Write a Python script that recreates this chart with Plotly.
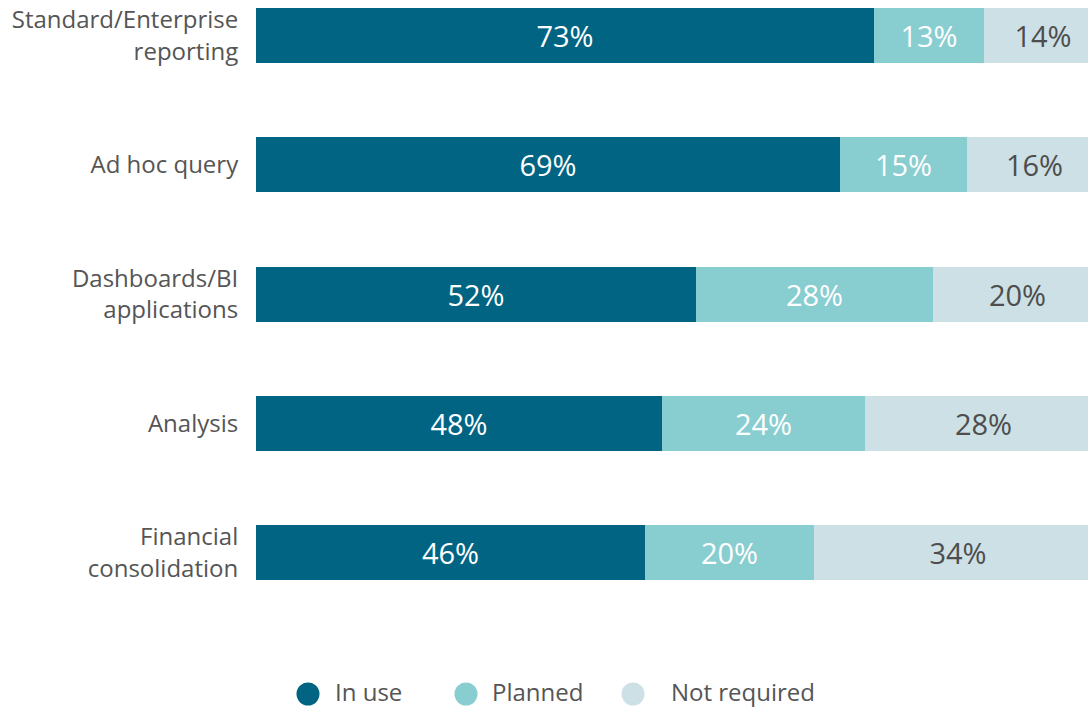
import plotly.graph_objects as go

# Survey: usage status of reporting / BI capabilities (percent of respondents)
categories = [
    "Standard/Enterprise<br>reporting",
    "Ad hoc query",
    "Dashboards/BI<br>applications",
    "Analysis",
    "Financial<br>consolidation",
]
in_use = [73, 69, 52, 48, 46]
planned = [13, 15, 28, 24, 20]
not_required = [14, 16, 20, 28, 34]

series_names = ["In use", "Planned", "Not required"]
series_colors = ["#006482", "#88CDD0", "#CDE0E5"]
text_colors = ["#FFFFFF", "#FFFFFF", "#4D4D4D"]
series_values = [in_use, planned, not_required]

FONT = "Open Sans"
W, H = 1088, 708
ML, MT, PLOT_H = 256, 0, 620

fig = go.Figure()
for name, vals, col, tcol in zip(series_names, series_values, series_colors, text_colors):
    fig.add_trace(go.Bar(
        name=name,
        y=categories,
        x=vals,
        orientation="h",
        marker=dict(color=col, line=dict(width=0)),
        width=0.4255,
        text=[f"{v}%" for v in vals],
        textposition="inside",
        insidetextanchor="middle",
        textangle=0,
        textfont=dict(family=FONT, size=29, color=tcol),
        showlegend=False,
        hoverinfo="skip",
    ))

# Legend drawn as circles + labels below the plot
leg_cx = [308, 466, 633]     # circle centres (px)
leg_tx = [334, 491, 670]     # label left edges (px)
leg_y = 694
shapes, annots = [], []
for name, col, cx, tx in zip(series_names, series_colors, leg_cx, leg_tx):
    xp = (cx - ML) / (W - ML)
    yp = (MT + PLOT_H - leg_y) / PLOT_H
    shapes.append(dict(
        type="circle", xref="paper", yref="paper",
        xsizemode="pixel", ysizemode="pixel",
        xanchor=xp, yanchor=yp,
        x0=-11.5, x1=11.5, y0=-11.5, y1=11.5,
        fillcolor=col, line=dict(width=0),
    ))
    annots.append(dict(
        text=name, xref="paper", yref="paper",
        x=(tx - ML) / (W - ML), y=(MT + PLOT_H - (leg_y - 3)) / PLOT_H,
        xanchor="left", yanchor="middle", showarrow=False, borderpad=0,
        font=dict(family=FONT, size=24, color="#555555"),
    ))

fig.update_layout(
    barmode="stack",
    width=W, height=H,
    margin=dict(l=ML, r=0, t=MT, b=H - MT - PLOT_H, pad=0),
    paper_bgcolor="white",
    plot_bgcolor="white",
    bargap=0,
    shapes=shapes,
    annotations=annots,
    xaxis=dict(
        range=[0, 98.35],
        showgrid=False, zeroline=False, showticklabels=False,
        showline=False, ticks="", fixedrange=True,
    ),
    yaxis=dict(
        range=[4.522, -0.2747],
        showgrid=False, zeroline=False, showline=False,
        ticks="outside", ticklen=12, tickcolor="rgba(0,0,0,0)",
        tickfont=dict(family=FONT, size=24, color="#555555"),
        fixedrange=True,
    ),
    font=dict(family=FONT),
)

fig.write_html("out.html", config={"displayModeBar": False})
